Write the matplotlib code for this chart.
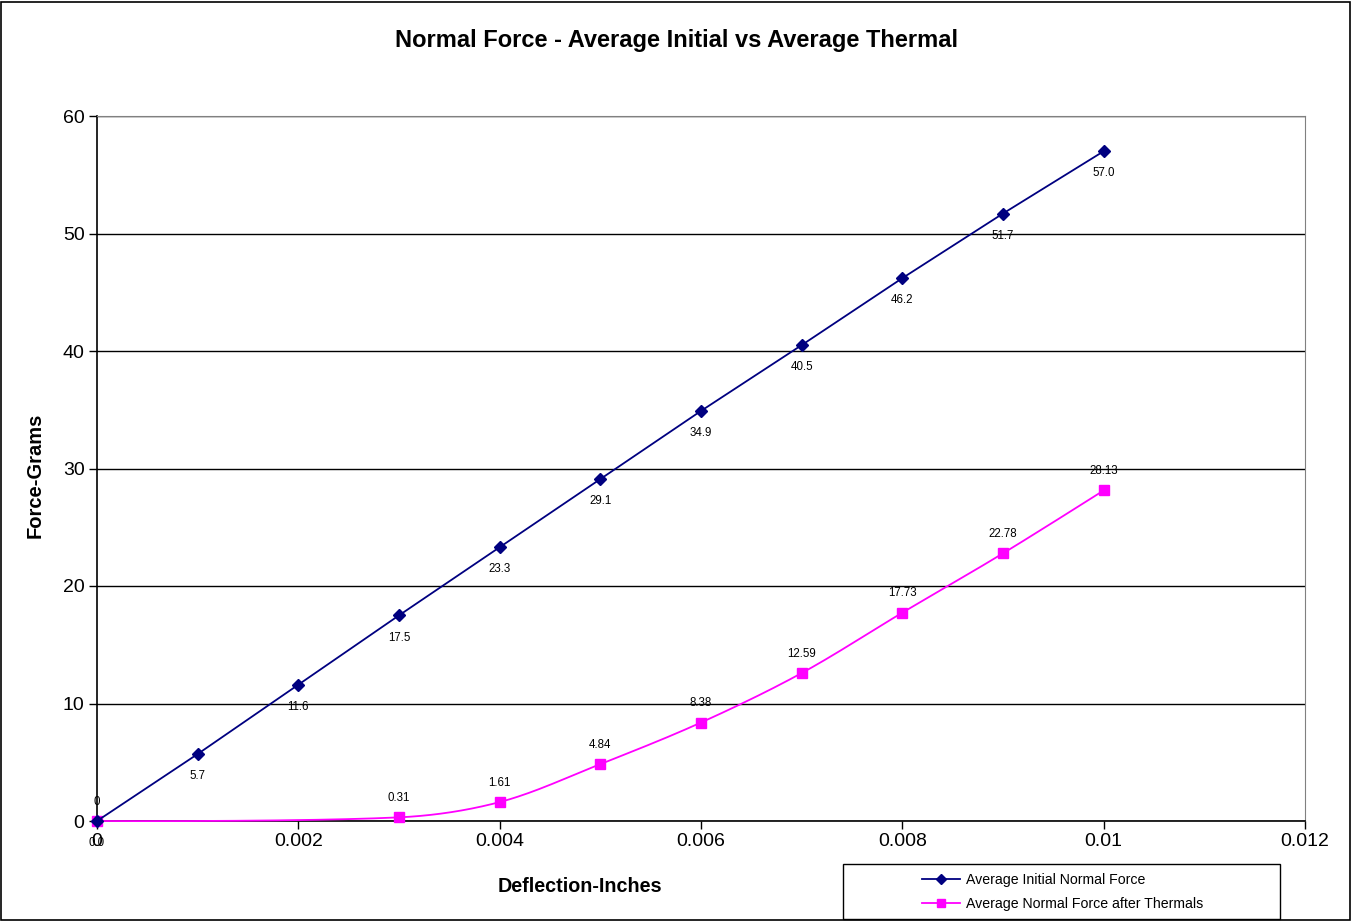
import numpy as np
import matplotlib
matplotlib.use("Agg")
import matplotlib.pyplot as plt
from matplotlib.patches import Rectangle

plt.rcParams['font.family'] = ['Liberation Sans', 'DejaVu Sans']

# data
deflection = [0, 0.001, 0.002, 0.003, 0.004, 0.005, 0.006, 0.007, 0.008, 0.009, 0.01]
initial_force = [0.0, 5.7, 11.6, 17.5, 23.3, 29.1, 34.9, 40.5, 46.2, 51.7, 57.0]
initial_labels = ["0.0", "5.7", "11.6", "17.5", "23.3", "29.1", "34.9", "40.5", "46.2", "51.7", "57.0"]

thermal_x = [0, 0.003, 0.004, 0.005, 0.006, 0.007, 0.008, 0.009, 0.01]
thermal_force = [0, 0.31, 1.61, 4.84, 8.38, 12.59, 17.73, 22.78, 28.13]
thermal_labels = ["0", "0.31", "1.61", "4.84", "8.38", "12.59", "17.73", "22.78", "28.13"]

W, H = 1353, 921
L, R, T, B = 97, 1305, 116, 821
XMAX, YMAX = 0.012, 60


# smoothed line through the points (bezier, tangents scaled by chord length)
def smooth(x, y, n=40):
    sxp = (R - L) / XMAX
    syp = (B - T) / YMAX
    px = np.asarray(x, float) * sxp
    py = np.asarray(y, float) * syp
    m = len(px)
    tx = np.zeros(m)
    ty = np.zeros(m)
    for i in range(1, m - 1):
        tx[i] = px[i + 1] - px[i - 1]
        ty[i] = py[i + 1] - py[i - 1]
    chord = np.hypot(np.diff(px), np.diff(py))
    t = np.linspace(0, 1, n)
    xs, ys = [], []
    for i in range(m - 1):
        d = chord[i]
        n0 = np.hypot(tx[i], ty[i])
        n1 = np.hypot(tx[i + 1], ty[i + 1])
        b1x, b1y = px[i], py[i]
        b2x, b2y = px[i + 1], py[i + 1]
        if n0 > 0:
            b1x += tx[i] / n0 * d / 3
            b1y += ty[i] / n0 * d / 3
        if n1 > 0:
            b2x -= tx[i + 1] / n1 * d / 3
            b2y -= ty[i + 1] / n1 * d / 3
        bx = (1 - t) ** 3 * px[i] + 3 * (1 - t) ** 2 * t * b1x + 3 * (1 - t) * t ** 2 * b2x + t ** 3 * px[i + 1]
        by = (1 - t) ** 3 * py[i] + 3 * (1 - t) ** 2 * t * b1y + 3 * (1 - t) * t ** 2 * b2y + t ** 3 * py[i + 1]
        xs.extend(bx)
        ys.extend(by)
    return np.array(xs) / sxp, np.array(ys) / syp


fig = plt.figure(figsize=(W / 100, H / 100), dpi=100)
fig.patches.append(Rectangle((0.001, 0.001), 0.997, 0.997, transform=fig.transFigure,
                             fill=False, edgecolor='black', linewidth=1.2))

ax = fig.add_axes([L / W, 1 - B / H, (R - L) / W, (B - T) / H])
ax.set_xlim(0, XMAX)
ax.set_ylim(0, YMAX)
ax.set_xticks(np.arange(0, 0.0121, 0.002))
ax.set_xticklabels(["0", "0.002", "0.004", "0.006", "0.008", "0.01", "0.012"])
ax.set_yticks(np.arange(0, 61, 10))
ax.yaxis.grid(True, color='black', linewidth=1)
ax.set_axisbelow(True)
for s in ['top', 'right']:
    ax.spines[s].set_color('#808080')
for s in ['left', 'bottom']:
    ax.spines[s].set_color('black')
    ax.spines[s].set_linewidth(1.2)
ax.tick_params(axis='both', direction='out', length=6, width=1, labelsize=14, pad=3)

# blue series
ax.plot(deflection, initial_force, color='#000080', linewidth=1.3, marker='D', markersize=6,
        label='Average Initial Normal Force', zorder=4, clip_on=False)
for x, y, lab in zip(deflection, initial_force, initial_labels):
    ax.annotate(lab, (x, y), xytext=(0, -16), textcoords='offset points',
                ha='center', va='center', fontsize=8.3)

# pink series
sx, sy = smooth(thermal_x, thermal_force)
ax.plot(sx, sy, color='#FF00FF', linewidth=1.3, zorder=3, clip_on=False)
ax.plot(thermal_x, thermal_force, color='#FF00FF', linestyle='none', marker='s', markersize=7,
        zorder=3, clip_on=False)
ax.plot([], [], color='#FF00FF', linewidth=1.3, marker='s', markersize=7,
        label='Average Normal Force after Thermals')
for x, y, lab in zip(thermal_x, thermal_force, thermal_labels):
    ax.annotate(lab, (x, y), xytext=(0, 14), textcoords='offset points',
                ha='center', va='center', fontsize=8.3)

fig.text(0.5, 1 - 41 / H, "Normal Force - Average Initial vs Average Thermal",
         fontsize=17, fontweight='bold', ha='center', va='center')
ax.set_xlabel("Deflection-Inches", fontsize=14.2, fontweight='bold')
ax.set_ylabel("Force-Grams", fontsize=14.5, fontweight='bold')
ax.xaxis.set_label_coords((580 - L) / (R - L), -(887 - B) / (B - T))
ax.yaxis.set_label_coords(-(L - 35) / (R - L), (B - 475) / (B - T))
ax.xaxis.label.set_va('center')
ax.yaxis.label.set_va('center')

# legend box
fig.patches.append(Rectangle((843 / W, 1 - 919 / H), (1280 - 843) / W, (919 - 864) / H,
                             transform=fig.transFigure, fill=False, edgecolor='black', linewidth=1))
leg = fig.legend(loc='center left', bbox_to_anchor=(922 / W, 1 - 892 / H), fontsize=10.2,
                 frameon=False, handlelength=2.7, handletextpad=0.4, labelspacing=0.75,
                 borderaxespad=0, borderpad=0, markerscale=0.85)

fig.savefig("out.png", dpi=100)
